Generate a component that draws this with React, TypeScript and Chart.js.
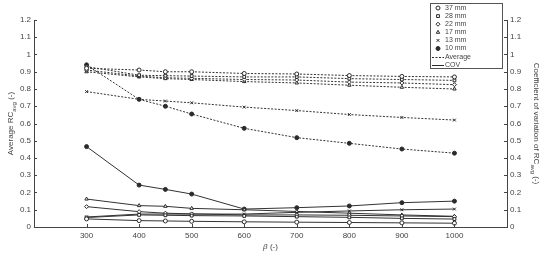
import React, { useEffect, useRef } from 'react';
import { Chart, registerables } from 'chart.js';
import { drawPoint } from 'chart.js/helpers';
Chart.register(...registerables);

const betaValues = [300, 400, 450, 500, 600, 700, 800, 900, 1000];
const seriesLabels = ['37 mm', '28 mm', '22 mm', '17 mm', '13 mm', '10 mm'];

const avg37 = [0.92, 0.91, 0.9, 0.9, 0.89, 0.887, 0.878, 0.873, 0.87];
const avg28 = [0.93, 0.88, 0.877, 0.875, 0.87, 0.87, 0.86, 0.855, 0.85];
const avg22 = [0.91, 0.875, 0.865, 0.862, 0.855, 0.852, 0.84, 0.835, 0.825];
const avg17 = [0.9, 0.87, 0.86, 0.855, 0.843, 0.835, 0.822, 0.81, 0.8];
const avg13 = [0.785, 0.74, 0.73, 0.72, 0.695, 0.675, 0.652, 0.635, 0.62];
const avg10 = [0.94, 0.74, 0.7, 0.655, 0.572, 0.518, 0.485, 0.452, 0.428];

const cov37 = [0.047, 0.037, 0.035, 0.033, 0.03, 0.028, 0.026, 0.024, 0.022];
const cov28 = [0.055, 0.07, 0.068, 0.066, 0.064, 0.06, 0.056, 0.05, 0.046];
const cov22 = [0.118, 0.089, 0.08, 0.076, 0.07, 0.07, 0.068, 0.064, 0.06];
const cov17 = [0.162, 0.124, 0.12, 0.108, 0.1, 0.09, 0.08, 0.07, 0.062];
const cov13 = [0.058, 0.075, 0.075, 0.075, 0.075, 0.085, 0.093, 0.1, 0.104];
const cov10 = [0.466, 0.243, 0.218, 0.191, 0.104, 0.112, 0.122, 0.141, 0.15];

const xTickValues = [300, 400, 500, 600, 700, 800, 900, 1000];
const yTickValues = [0, 0.1, 0.2, 0.3, 0.4, 0.5, 0.6, 0.7, 0.8, 0.9, 1, 1.1, 1.2];

const averageSeries = [avg37, avg28, avg22, avg17, avg13, avg10];
const covSeries = [cov37, cov28, cov22, cov17, cov13, cov10];
const markerStyles = ['circle', 'rect', 'rectRot', 'triangle', 'crossRot', 'circle'];
const markerFilled = [false, false, false, false, false, true];

const FONT = 'Liberation Sans, Arial, sans-serif';
const TEXT = '#444';
const LINE = '#2a2a2a';

function drawSubTitle(ctx: CanvasRenderingContext2D, cx: number, cy: number, rot: number) {
  ctx.save();
  ctx.translate(cx, cy);
  ctx.rotate(rot);
  ctx.fillStyle = TEXT;
  ctx.textBaseline = 'middle';
  ctx.textAlign = 'left';
  const parts: [string, number, number][] = [];
  return { ctx, parts };
}

function drawTitleWithSub(ctx: CanvasRenderingContext2D, cx: number, cy: number, rot: number, pre: string, sub: string, post: string) {
  ctx.save();
  ctx.translate(cx, cy);
  ctx.rotate(rot);
  ctx.fillStyle = TEXT;
  ctx.textBaseline = 'alphabetic';
  ctx.textAlign = 'left';
  ctx.font = `8px ${FONT}`;
  const w1 = ctx.measureText(pre).width;
  const w3 = ctx.measureText(post).width;
  ctx.font = `6px ${FONT}`;
  const w2 = ctx.measureText(sub).width;
  const total = w1 + w2 + w3;
  let x = -total / 2;
  ctx.font = `8px ${FONT}`;
  ctx.fillText(pre, x, 3);
  x += w1;
  ctx.font = `6px ${FONT}`;
  ctx.fillText(sub, x, 6);
  x += w2;
  ctx.font = `8px ${FONT}`;
  ctx.fillText(post, x, 3);
  ctx.restore();
}

const decorPlugin = {
  id: 'decor',
  afterDraw(chart: any) {
    const ctx: CanvasRenderingContext2D = chart.ctx;
    const { left, right, top, bottom } = chart.chartArea;
    const xs = chart.scales.x;
    const ys = chart.scales.y;
    ctx.save();
    ctx.strokeStyle = '#444';
    ctx.lineWidth = 1;
    ctx.beginPath();
    xTickValues.forEach((v) => {
      const px = Math.round(xs.getPixelForValue(v)) + 0.5;
      ctx.moveTo(px, bottom);
      ctx.lineTo(px, bottom - 3);
    });
    yTickValues.forEach((v) => {
      const py = Math.round(ys.getPixelForValue(v)) + 0.5;
      ctx.moveTo(left, py);
      ctx.lineTo(left + 3, py);
      ctx.moveTo(right, py);
      ctx.lineTo(right - 3, py);
    });
    ctx.stroke();
    ctx.restore();

    drawTitleWithSub(ctx, 10, (top + bottom) / 2, -Math.PI / 2, 'Average RC', 'avg', ' (-)');
    drawTitleWithSub(ctx, 537, (top + bottom) / 2, Math.PI / 2, 'Coefficient of variation of RC', 'avg', ' (-)');

    ctx.save();
    ctx.fillStyle = TEXT;
    ctx.textBaseline = 'middle';
    const cx = (left + right) / 2;
    ctx.font = `italic 8px ${FONT}`;
    const bw = ctx.measureText('β').width;
    ctx.font = `8px ${FONT}`;
    const rw = ctx.measureText(' (-)').width;
    let x0 = cx - (bw + rw) / 2;
    ctx.textAlign = 'left';
    ctx.font = `italic 8px ${FONT}`;
    ctx.fillText('β', x0, 247);
    ctx.font = `8px ${FONT}`;
    ctx.fillText(' (-)', x0 + bw, 247);
    ctx.restore();

    // legend
    ctx.save();
    const bx = 430.5, by = 3.5, bwid = 72, bh = 65;
    ctx.fillStyle = '#fff';
    ctx.fillRect(bx, by, bwid, bh);
    ctx.strokeStyle = '#555';
    ctx.lineWidth = 1;
    ctx.strokeRect(bx, by, bwid, bh);
    ctx.font = `7px ${FONT}`;
    ctx.textBaseline = 'middle';
    ctx.textAlign = 'left';
    const rowH = 8.1;
    seriesLabels.forEach((lab, i) => {
      const y = 8 + i * rowH;
      ctx.strokeStyle = LINE;
      ctx.fillStyle = markerFilled[i] ? LINE : '#fff';
      ctx.lineWidth = 1;
      drawPoint(ctx, { pointStyle: markerStyles[i], radius: 2, rotation: 0, borderWidth: 1 } as any, 438, y);
      ctx.fillStyle = TEXT;
      ctx.fillText(lab, 445, y);
    });
    const yA = 8 + 6 * rowH;
    const yC = 8 + 7 * rowH;
    ctx.strokeStyle = LINE;
    ctx.lineWidth = 1;
    ctx.setLineDash([2, 1.5]);
    ctx.beginPath();
    ctx.moveTo(432, Math.round(yA) + 0.5);
    ctx.lineTo(444, Math.round(yA) + 0.5);
    ctx.stroke();
    ctx.setLineDash([]);
    ctx.beginPath();
    ctx.moveTo(432, Math.round(yC) + 0.5);
    ctx.lineTo(444, Math.round(yC) + 0.5);
    ctx.stroke();
    ctx.fillStyle = TEXT;
    ctx.fillText('Average', 445, yA);
    ctx.fillText('COV', 445, yC);
    ctx.restore();
  },
};

export default function App() {
  const ref = useRef<HTMLCanvasElement>(null);
  useEffect(() => {
    if (!ref.current) return;
    const datasets: any[] = [];
    averageSeries.forEach((s, i) => {
      datasets.push({
        label: seriesLabels[i] + ' Average',
        data: betaValues.map((b, j) => ({ x: b, y: s[j] })),
        yAxisID: 'y',
        borderColor: '#333',
        borderWidth: 1,
        borderDash: [2, 1.5],
        pointStyle: markerStyles[i],
        pointRadius: 2,
        pointBorderWidth: 1,
        pointBorderColor: LINE,
        pointBackgroundColor: markerFilled[i] ? LINE : '#fff',
        fill: false,
        tension: 0,
      });
    });
    covSeries.forEach((s, i) => {
      datasets.push({
        label: seriesLabels[i] + ' COV',
        data: betaValues.map((b, j) => ({ x: b, y: s[j] })),
        yAxisID: 'y1',
        borderColor: '#333',
        borderWidth: 1,
        pointStyle: markerStyles[i],
        pointRadius: 2,
        pointBorderWidth: 1,
        pointBorderColor: LINE,
        pointBackgroundColor: markerFilled[i] ? LINE : '#fff',
        fill: false,
        tension: 0,
      });
    });
    const tickFont = { family: FONT, size: 8 };
    const chart = new Chart(ref.current, {
      type: 'line',
      data: { datasets },
      options: {
        responsive: false,
        animation: false,
        layout: { padding: { top: 20, left: 0, right: 0, bottom: 0 } },
        plugins: { legend: { display: false }, tooltip: { enabled: false } },
        scales: {
          x: {
            type: 'linear',
            min: 200,
            max: 1100,
            afterBuildTicks: (s: any) => { s.ticks = xTickValues.map((v) => ({ value: v })); },
            afterFit: (s: any) => { s.height = 27; },
            ticks: { font: tickFont, color: TEXT, padding: 4, maxRotation: 0, autoSkip: false, callback: (v: any) => String(v) },
            grid: { display: false, drawTicks: false },
            border: { display: true, color: '#444', width: 1 },
          },
          y: {
            type: 'linear',
            position: 'left',
            min: 0,
            max: 1.2,
            afterBuildTicks: (s: any) => { s.ticks = yTickValues.map((v) => ({ value: v })); },
            afterFit: (s: any) => { s.width = 34; },
            ticks: { font: tickFont, color: TEXT, padding: 3, autoSkip: false, callback: (v: any) => String(v) },
            grid: { display: false, drawTicks: false },
            border: { display: true, color: '#444', width: 1 },
          },
          y1: {
            type: 'linear',
            position: 'right',
            min: 0,
            max: 1.2,
            afterBuildTicks: (s: any) => { s.ticks = yTickValues.map((v) => ({ value: v })); },
            afterFit: (s: any) => { s.width = 43; },
            ticks: { font: tickFont, color: TEXT, padding: 3, autoSkip: false, callback: (v: any) => String(v) },
            grid: { display: false, drawTicks: false },
            border: { display: true, color: '#444', width: 1 },
          },
        },
      },
      plugins: [decorPlugin],
    });
    return () => chart.destroy();
  }, []);
  return (
    <div style={{ position: 'fixed', left: 0, top: 0, width: 550, height: 254, background: '#fff' }}>
      <canvas ref={ref} width={550} height={254} style={{ width: 550, height: 254 }} />
    </div>
  );
}
